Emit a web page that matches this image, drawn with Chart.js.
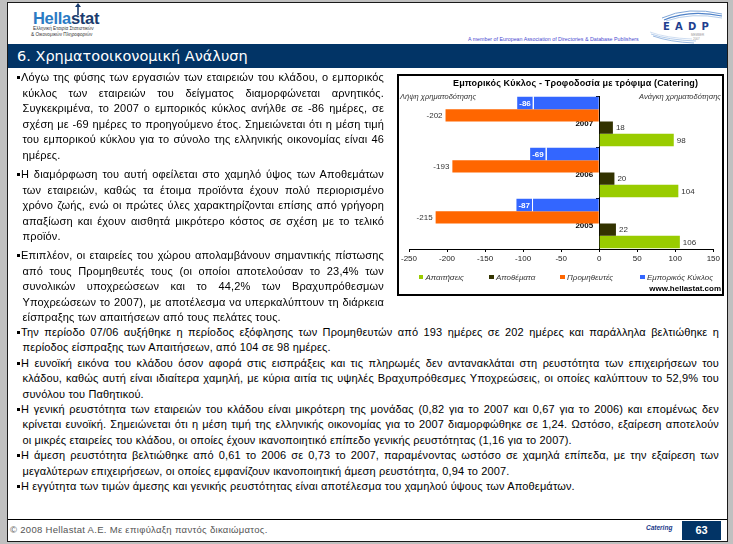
<!DOCTYPE html>
<html><head><meta charset="utf-8">
<script src="https://cdn.jsdelivr.net/npm/chart.js@4/dist/chart.umd.min.js"></script>
<style>
html,body{margin:0;padding:0;}
body{width:733px;height:544px;background:#c0c0c0;position:relative;overflow:hidden;font-family:"Liberation Sans",Arial,sans-serif;}
.abs{position:absolute;}
#slide{position:absolute;left:7px;top:2px;width:721px;height:540px;background:#fff;border:1px solid #1a1a1a;box-sizing:border-box;}
#titlebar{position:absolute;left:8px;top:44px;width:719px;height:24px;background:#023466;}
#titlebar span{position:absolute;left:9px;top:3px;font-family:"DejaVu Sans";font-size:14.5px;color:#fff;line-height:18px;}
.ln{position:absolute;font-size:11px;line-height:15px;color:#000;white-space:nowrap;letter-spacing:0.15px;}
.ln.j{white-space:normal;text-align:justify;text-align-last:justify;}
.bul{position:absolute;width:3px;height:3px;background:#000;}
#chartbox{position:absolute;left:397px;top:74px;width:327px;height:222px;border:2px solid #000;box-sizing:border-box;}
#cwrap{position:absolute;left:399px;top:75px;width:323px;height:220px;}
.ctitle{position:absolute;left:453px;top:78px;font-weight:bold;font-size:9px;color:#000;white-space:nowrap;letter-spacing:0.15px;}
.csub{position:absolute;top:92px;font-style:italic;font-size:7.5px;color:#333;white-space:nowrap;}
.leg{position:absolute;top:273px;font-style:italic;font-size:8px;color:#333;white-space:nowrap;line-height:10px;}
.leg i{display:inline-block;width:4.5px;height:4.5px;margin-right:2.5px;vertical-align:1px;}
</style></head>
<body>
<div id="slide"></div>

<!-- Hellastat logo -->
<svg class="abs" style="left:70px;top:2px" width="16" height="14" viewBox="0 0 16 14">
  <line x1="8" y1="13" x2="8" y2="4" stroke="#1a3c6e" stroke-width="1.6"/>
  <path d="M5 5 L8 1 L11 5 Z" fill="#1a3c6e"/>
</svg>
<div class="abs" style="left:33px;top:8px;font-weight:bold;font-size:16.5px;letter-spacing:-0.3px;line-height:20px;white-space:nowrap"><span style="color:#2b7bc4">Hella</span><span style="color:#1a3c6e">stat</span></div>
<div class="abs" style="left:33px;top:26px;font-size:4.7px;color:#333;line-height:5px;white-space:nowrap">Ελληνική Εταιρία Στατιστικών</div>
<div class="abs" style="left:31px;top:31.5px;font-size:4.7px;color:#333;line-height:5px;white-space:nowrap">&amp; Οικονομικών Πληροφοριών</div>

<!-- EADP logo -->
<svg class="abs" style="left:648px;top:8px" width="76" height="36" viewBox="0 0 76 36">
  <path d="M14 10 Q40 -2 74 6" stroke="#7fa6d8" stroke-width="1" fill="none"/>
  <path d="M16 12 Q42 1 74 8" stroke="#4f82c8" stroke-width="1.2" fill="none"/>
  <path d="M18 13 Q44 4 74 10" stroke="#9fbfe6" stroke-width="0.8" fill="none"/>
  <path d="M3 26 Q20 32 48 33" stroke="#9fbfe6" stroke-width="0.8" fill="none"/>
  <path d="M5 28 Q22 34 46 35" stroke="#7fa6d8" stroke-width="0.8" fill="none"/>
  <path d="M2 24 Q18 30 44 31" stroke="#c4d6ee" stroke-width="0.8" fill="none"/>
  <text x="15" y="22" font-family="DejaVu Sans" font-weight="bold" font-size="10" fill="#1f3f8f" letter-spacing="5.2">EADP</text>
  <text x="43" y="28" font-family="Liberation Sans" font-size="3" fill="#999">MEMBER</text>
  <text x="45" y="32" font-family="Liberation Sans" font-size="3" fill="#999">2007</text>
</svg>
<div class="abs" style="left:468px;top:36px;font-size:5.3px;color:#4a4ad0;line-height:6px;white-space:nowrap">A member of European Association of Directories &amp; Database Publishers</div>

<div id="titlebar"><span>6. Χρηματοοικονομική Ανάλυση</span></div>

<!-- chart -->
<div id="chartbox"></div>
<div id="cwrap"><canvas id="c"></canvas></div>
<div class="ctitle">Εμπορικός Κύκλος - Τροφοδοσία με τρόφιμα (Catering)</div>
<div class="csub" style="left:400px">Λήψη χρηματοδότησης</div>
<div class="csub" style="right:12px">Ανάγκη χρηματοδότησης</div>
<div id="legend"></div>
<div class="abs" style="right:12px;top:284px;font-weight:bold;font-size:8px;color:#000;line-height:10px">www.hellastat.com</div>

<!-- footer -->
<div class="abs" style="left:8px;top:519px;width:719px;height:1px;background:#000"></div>
<div class="abs" style="left:10px;top:524px;font-size:9.5px;color:#555;letter-spacing:0.3px;line-height:12px;white-space:nowrap">© 2008 Hellastat A.E. Με επιφύλαξη παντός δικαιώματος.</div>
<div class="abs" style="left:646px;top:524px;font-size:6.5px;font-weight:bold;font-style:italic;color:#1a3a8a;line-height:8px">Catering</div>
<div class="abs" style="left:682px;top:521px;width:39px;height:19px;background:#023466;color:#fff;font-weight:bold;font-size:11px;line-height:19px;text-align:center">63</div>

<script>
// ---------- chart data ----------
const categories = ['2007', '2006', '2005'];
const receivables = [98, 104, 106];      // Απαιτήσεις
const inventories = [18, 20, 22];        // Αποθέματα
const suppliers = [-202, -193, -215];    // Προμηθευτές
const tradeCycle = [-86, -69, -87];      // Εμπορικός Κύκλος
const seriesNames = ['Απαιτήσεις', 'Αποθέματα', 'Προμηθευτές', 'Εμπορικός Κύκλος'];
const seriesColors = ['#99CC00', '#333300', '#FF6600', '#3366FF'];
const xTicks = [-250, -200, -150, -100, -50, 0, 50, 100, 150];

// ---------- body text ----------
const L = 384, R = 719;
const textLines = [
 ['Λόγω της φύσης των εργασιών των εταιρειών του κλάδου, ο εμπορικός', 77.5, 1, 1, L],
 ['κύκλος των εταιρειών του δείγματος διαμορφώνεται αρνητικός.', 93, 0, 1, L],
 ['Συγκεκριμένα, το 2007 ο εμπορικός κύκλος ανήλθε σε -86 ημέρες, σε', 108.5, 0, 1, L],
 ['σχέση με -69 ημέρες το προηγούμενο έτος. Σημειώνεται ότι η μέση τιμή', 124, 0, 1, L],
 ['του εμπορικού κύκλου για το σύνολο της ελληνικής οικονομίας είναι 46', 139.5, 0, 1, L],
 ['ημέρες.', 155, 0, 0, L],
 ['Η διαμόρφωση του αυτή οφείλεται στο χαμηλό ύψος των Αποθεμάτων', 174, 1, 1, L],
 ['των εταιρειών, καθώς τα έτοιμα προϊόντα έχουν πολύ περιορισμένο', 190, 0, 1, L],
 ['χρόνο ζωής, ενώ οι πρώτες ύλες χαρακτηρίζονται επίσης από γρήγορη', 205.5, 0, 1, L],
 ['απαξίωση και έχουν αισθητά μικρότερο κόστος σε σχέση με το τελικό', 221, 0, 1, L],
 ['προϊόν.', 236.5, 0, 0, L],
 ['Επιπλέον, οι εταιρείες του χώρου απολαμβάνουν σημαντικής πίστωσης', 255, 1, 1, L],
 ['από τους Προμηθευτές τους (οι οποίοι αποτελούσαν το 23,4% των', 271, 0, 1, L],
 ['συνολικών υποχρεώσεων και το 44,2% των Βραχυπρόθεσμων', 286.5, 0, 1, L],
 ['Υποχρεώσεων το 2007), με αποτέλεσμα να υπερκαλύπτουν τη διάρκεια', 302.5, 0, 1, L],
 ['είσπραξης των απαιτήσεων από τους πελάτες τους.', 317, 0, 0, L],
 ['Την περίοδο 07/06 αυξήθηκε η περίοδος εξόφλησης των Προμηθευτών από 193 ημέρες σε 202 ημέρες και παράλληλα βελτιώθηκε η', 332, 1, 1, R],
 ['περίοδος είσπραξης των Απαιτήσεων, από 104 σε 98 ημέρες.', 347.5, 0, 0, R],
 ['Η ευνοϊκή εικόνα του κλάδου όσον αφορά στις εισπράξεις και τις πληρωμές δεν αντανακλάται στη ρευστότητα των επιχειρήσεων του', 363, 1, 1, R],
 ['κλάδου, καθώς αυτή είναι ιδιαίτερα χαμηλή, με κύρια αιτία τις υψηλές Βραχυπρόθεσμες Υποχρεώσεις, οι οποίες καλύπτουν το 52,9% του', 378.5, 0, 1, R],
 ['συνόλου του Παθητικού.', 394, 0, 0, R],
 ['Η γενική ρευστότητα των εταιρειών του κλάδου είναι μικρότερη της μονάδας (0,82 για το 2007 και 0,67 για το 2006) και επομένως δεν', 409, 1, 1, R],
 ['κρίνεται ευνοϊκή. Σημειώνεται ότι η μέση τιμή της ελληνικής οικονομίας για το 2007 διαμορφώθηκε σε 1,24. Ωστόσο, εξαίρεση αποτελούν', 424.5, 0, 1, R],
 ['οι μικρές εταιρείες του κλάδου, οι οποίες έχουν ικανοποιητικό επίπεδο γενικής ρευστότητας (1,16 για το 2007).', 440, 0, 0, R],
 ['Η άμεση ρευστότητα βελτιώθηκε από 0,61 το 2006 σε 0,73 το 2007, παραμένοντας ωστόσο σε χαμηλά επίπεδα, με την εξαίρεση των', 455.5, 1, 1, R],
 ['μεγαλύτερων επιχειρήσεων, οι οποίες εμφανίζουν ικανοποιητική άμεση ρευστότητα, 0,94 το 2007.', 471, 0, 0, R],
 ['Η εγγύτητα των τιμών άμεσης και γενικής ρευστότητας είναι αποτέλεσμα του χαμηλού ύψους των Αποθεμάτων.', 486.5, 1, 0, R]
];
textLines.forEach(([t, cy, bullet, just, right]) => {
  const x0 = bullet ? 21 : 22.5;
  const d = document.createElement('div');
  d.className = 'ln' + (just ? ' j' : '');
  d.style.left = x0 + 'px';
  d.style.top = (cy - 7.5) + 'px';
  d.style.width = (right - x0) + 'px';
  d.textContent = t;
  document.body.appendChild(d);
  if (just) {
    let ls = 0.15;
    while (d.offsetHeight > 16 && ls > -1.5) { ls -= 0.05; d.style.letterSpacing = ls + 'px'; }
  }
  if (bullet) {
    const b = document.createElement('div');
    b.className = 'bul';
    b.style.left = '16.5px';
    b.style.top = (cy - 1.5) + 'px';
    document.body.appendChild(b);
  }
});

// ---------- legend (HTML) ----------
const legendX = [418.5, 489, 560, 640];
const legendEl = document.getElementById('legend');
seriesNames.forEach((n, i) => {
  const s = document.createElement('div');
  s.className = 'leg';
  s.style.left = legendX[i] + 'px';
  s.innerHTML = '<i style="background:' + seriesColors[i] + '"></i>' + n;
  legendEl.appendChild(s);
});

// ---------- chart ----------
Chart.defaults.font.family = '"Liberation Sans", Arial, sans-serif';

// shift the category labels a few pixels left of the axis line (axis sits at x = 0)
const categoryLabelGap = {
  id: 'categoryLabelGap',
  beforeDraw(chart) {
    const s = chart.scales.y;
    if (!s || !s.getLabelItems) return;
    s.getLabelItems().forEach(it => {
      if (!it._shifted && it.options && it.options.translation) {
        it.options.translation[0] -= 6;
        it._shifted = true;
      }
    });
  }
};

const valueLabels = {
  id: 'valueLabels',
  afterDatasetsDraw(chart) {
    const ctx = chart.ctx;
    chart.data.datasets.forEach((ds, di) => {
      const meta = chart.getDatasetMeta(di);
      meta.data.forEach((bar, i) => {
        const v = ds.data[i];
        const p = bar.getProps(['x', 'y', 'base', 'height'], true);
        const txt = String(v);
        ctx.save();
        ctx.textBaseline = 'middle';
        if (ds.labelBox) {
          ctx.font = 'bold 8px "Liberation Sans"';
          const w = ctx.measureText(txt).width + 4;
          const top = p.y - p.height / 2;
          ctx.fillStyle = ds.backgroundColor;
          ctx.fillRect(p.x - 1 - w, top, w, p.height);
          ctx.fillStyle = '#ffffff';
          ctx.fillRect(p.x - 1, top, 1, p.height);
          ctx.textAlign = 'center';
          ctx.fillText(txt, p.x - 1 - w / 2, p.y + 0.5);
        } else {
          ctx.font = '8px "Liberation Sans"';
          ctx.fillStyle = '#333';
          if (v < 0) { ctx.textAlign = 'right'; ctx.fillText(txt, p.x - 3, p.y + 0.5); }
          else { ctx.textAlign = 'left'; ctx.fillText(txt, p.x + 3, p.y + 0.5); }
        }
        ctx.restore();
      });
    });
  }
};

new Chart(document.getElementById('c'), {
  type: 'bar',
  data: {
    labels: categories,
    datasets: [
      { label: seriesNames[3], data: tradeCycle, backgroundColor: seriesColors[3], labelBox: true },
      { label: seriesNames[2], data: suppliers, backgroundColor: seriesColors[2] },
      { label: seriesNames[1], data: inventories, backgroundColor: seriesColors[1] },
      { label: seriesNames[0], data: receivables, backgroundColor: seriesColors[0] }
    ]
  },
  options: {
    indexAxis: 'y',
    responsive: true,
    maintainAspectRatio: false,
    animation: false,
    events: [],
    layout: { padding: { top: 21, left: 10, right: 8, bottom: 26 } },
    datasets: { bar: { categoryPercentage: 0.97, barPercentage: 1, borderWidth: 0 } },
    plugins: { legend: { display: false }, title: { display: false }, tooltip: { enabled: false } },
    scales: {
      x: {
        type: 'linear', min: -250, max: 150,
        afterBuildTicks: s => { s.ticks = xTicks.map(v => ({ value: v })); },
        afterFit: s => { s.height = 20; },
        ticks: { color: '#222', font: { size: 8 }, padding: 2, maxRotation: 0, autoSkip: false },
        grid: { drawOnChartArea: false, drawTicks: true, tickLength: 3, color: '#000' },
        border: { color: '#000', width: 1 }
      },
      y: {
        type: 'category',
        position: { x: 0 },
        offset: true,
        ticks: { color: '#000', font: { size: 8, weight: 'bold' }, labelOffset: 2 },
        grid: { drawOnChartArea: false, drawTicks: true, tickLength: 3, color: '#000', offset: true },
        border: { color: '#000', width: 1 }
      }
    }
  },
  plugins: [valueLabels, categoryLabelGap]
});
</script>
</body></html>
